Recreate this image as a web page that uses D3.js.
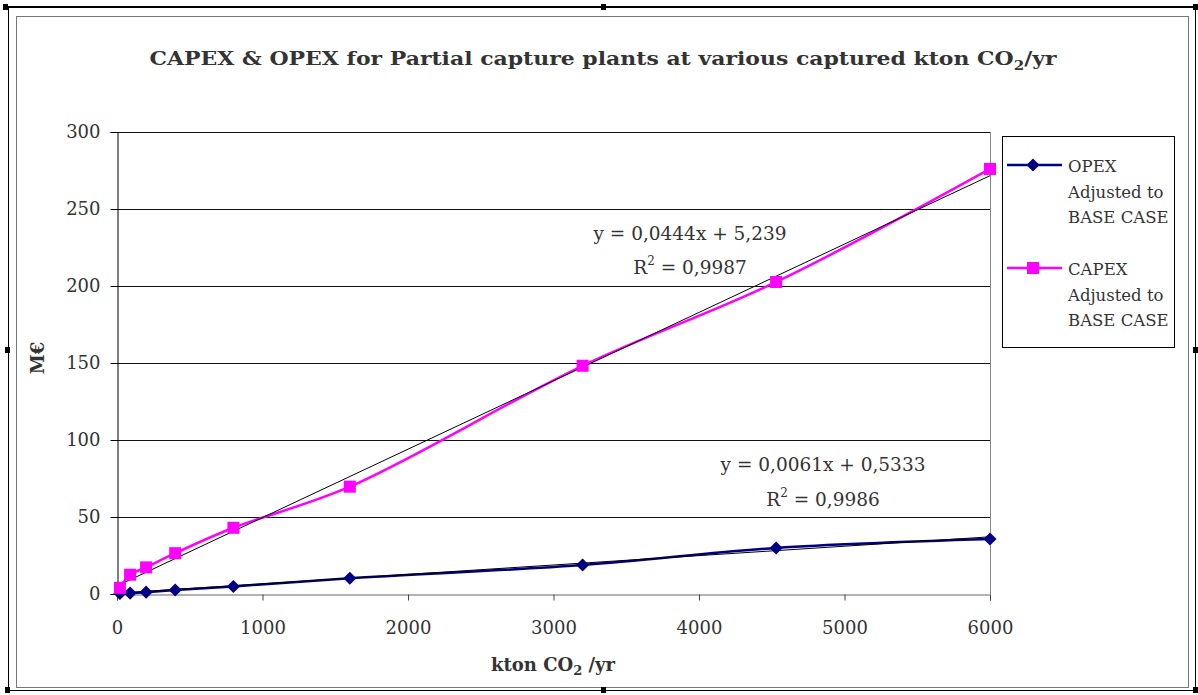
<!DOCTYPE html>
<html><head><meta charset="utf-8">
<script src="https://cdn.jsdelivr.net/npm/d3@7"></script>
<style>
html,body{margin:0;padding:0;background:#fff;}
svg{display:block;}
text{font-family:"DejaVu Serif","Liberation Serif",serif;fill:#333;}
</style></head>
<body>
<svg id="c" width="1198" height="695"></svg>
<script>
// ---- data ----
const captured = [20, 90, 200, 400, 800, 1600, 3200, 4530, 6000];
const opex = [0.4, 0.6, 1.2, 2.6, 4.9, 10.2, 18.8, 29.9, 35.7];
const capex = [4.0, 12.5, 17.3, 26.5, 43.0, 69.7, 148.2, 202.6, 276.0];
const xTicks = [0, 1000, 2000, 3000, 4000, 5000, 6000];
const yTicks = [0, 50, 100, 150, 200, 250, 300];
const trendOpex = {slope: 0.0061, intercept: 0.5333, label: "y = 0,0061x + 0,5333", r2: "0,9986"};
const trendCapex = {slope: 0.0444, intercept: 5.239, label: "y = 0,0444x + 5,239", r2: "0,9987"};
const seriesNames = ["OPEX", "CAPEX"];

const svg = d3.select("#c");

// frame
svg.append("rect").attr("x",8.5).attr("y",7.5).attr("width",1187).attr("height",683)
  .attr("fill","none").attr("stroke","#000").attr("stroke-width",1);
svg.append("line").attr("x1",6).attr("x2",1196).attr("y1",7).attr("y2",7).attr("stroke","#000").attr("stroke-width",2);
svg.append("rect").attr("x",16.5).attr("y",16.5).attr("width",1172).attr("height",671)
  .attr("fill","none").attr("stroke","#777").attr("stroke-width",1);
[[3,4],[601,4],[1193,4],[5,347],[1193,347],[5,687],[601,687],[1193,687]].forEach(p=>{
  svg.append("rect").attr("x",p[0]).attr("y",p[1]).attr("width",5).attr("height",6).attr("fill","#000");
});

const x = d3.scaleLinear().domain([0,6000]).range([117,990]);
const y = d3.scaleLinear().domain([0,300]).range([594,132]);

// grid
svg.append("g").selectAll("line").data(yTicks.filter(d=>d>0)).join("line")
  .attr("x1",117).attr("x2",990).attr("y1",d=>Math.round(y(d))+0.5).attr("y2",d=>Math.round(y(d))+0.5)
  .attr("stroke","#111").attr("stroke-width",1);
svg.append("line").attr("x1",990.5).attr("x2",990.5).attr("y1",132).attr("y2",594).attr("stroke","#888");

// axes
const yAxis = d3.axisLeft(y).tickValues(yTicks).tickSize(7).tickPadding(10);
const gy = svg.append("g").attr("transform","translate(117.5,0)").call(yAxis);
gy.select(".domain").attr("stroke","#000");
gy.selectAll(".tick line").attr("stroke","#000");
gy.selectAll("text").attr("font-size",18).attr("fill","#444").attr("font-family","DejaVu Serif, serif");

const xAxis = d3.axisBottom(x).tickValues(xTicks).tickSize(6).tickPadding(21).tickFormat(d3.format("d"));
const gx = svg.append("g").attr("transform","translate(0,594.5)").call(xAxis);
gx.select(".domain").attr("stroke","#666");
gx.selectAll(".tick line").attr("stroke","#444");
gx.selectAll("text").attr("font-size",18).attr("fill","#444").attr("font-family","DejaVu Serif, serif");

const line = d3.line().x((d,i)=>x(captured[i])).y(d=>y(d)).curve(d3.curveCatmullRom.alpha(0.5));
svg.append("path").datum(opex).attr("d",line).attr("fill","none").attr("stroke","#000080").attr("stroke-width",2.5);
svg.append("path").datum(capex).attr("d",line).attr("fill","none").attr("stroke","#FF00FF").attr("stroke-width",2.5);

// trend lines
[trendCapex, trendOpex].forEach(t=>{
  svg.append("line").attr("x1",x(0)).attr("x2",x(6000))
    .attr("y1",y(t.intercept)).attr("y2",y(t.intercept+t.slope*6000))
    .attr("stroke","#000").attr("stroke-width",1);
});

const diamond = d3.symbol().type(d3.symbolDiamond2).size(110);
svg.append("g").selectAll("path").data(opex).join("path")
  .attr("d",diamond).attr("transform",(d,i)=>`translate(${x(captured[i])},${y(d)})`).attr("fill","#000080");
svg.append("g").selectAll("rect").data(capex).join("rect")
  .attr("x",(d,i)=>x(captured[i])-6).attr("y",d=>y(d)-6).attr("width",12).attr("height",12).attr("fill","#FF00FF");

// equations
function eq(t, cx, y1, y2){
  svg.append("text").attr("x",cx).attr("y",y1).attr("text-anchor","middle").attr("font-size",18.5).text(t.label);
  const r = svg.append("text").attr("x",cx).attr("y",y2).attr("text-anchor","middle").attr("font-size",18.5);
  r.append("tspan").text("R");
  r.append("tspan").attr("dy",-9).attr("font-size",12).text("2");
  r.append("tspan").attr("dy",9).text(" = " + t.r2);
}
eq(trendCapex, 690, 240, 274);
eq(trendOpex, 823, 471, 506);

// title
const title = svg.append("text").attr("x",603).attr("y",65).attr("text-anchor","middle")
  .attr("font-size",19).attr("font-weight","bold").attr("fill","#111")
  .attr("textLength",907).attr("lengthAdjust","spacingAndGlyphs");
title.append("tspan").text("CAPEX & OPEX for Partial capture plants at various captured  kton CO");
title.append("tspan").attr("dy",5).attr("font-size",13).text("2");
title.append("tspan").attr("dy",-5).text("/yr");

// axis titles
const xt = svg.append("text").attr("x",553).attr("y",671).attr("text-anchor","middle")
  .attr("font-size",18).attr("font-weight","bold").attr("fill","#111");
xt.append("tspan").text("kton CO");
xt.append("tspan").attr("dy",4).attr("font-size",13).text("2");
xt.append("tspan").attr("dy",-4).text(" /yr");
svg.append("text").attr("transform","translate(44,358) rotate(-90)").attr("text-anchor","middle")
  .attr("font-size",18).attr("font-weight","bold").attr("fill","#111").text("M€");

// legend
svg.append("rect").attr("x",1002.5).attr("y",136.5).attr("width",172).attr("height",211)
  .attr("fill","#fff").attr("stroke","#000").attr("stroke-width",1);
const leg = [
  {name: seriesNames[0], color:"#000080", cy:165, marker:"d"},
  {name: seriesNames[1], color:"#FF00FF", cy:268, marker:"s"}
];
leg.forEach(l=>{
  svg.append("line").attr("x1",1007).attr("x2",1062).attr("y1",l.cy).attr("y2",l.cy).attr("stroke",l.color).attr("stroke-width",2.5);
  if(l.marker==="d") svg.append("path").attr("d",diamond).attr("transform",`translate(1033,${l.cy})`).attr("fill",l.color);
  else svg.append("rect").attr("x",1027).attr("y",l.cy-6).attr("width",12).attr("height",12).attr("fill",l.color);
  const t = svg.append("text").attr("x",1068).attr("y",l.cy+7).attr("font-size",16.5).attr("fill","#333");
  [l.name, "Adjusted to", "BASE CASE"].forEach((s,i)=>{
    t.append("tspan").attr("x",1068).attr("dy", i===0?0:25.5).text(s);
  });
});
</script>
</body></html>
